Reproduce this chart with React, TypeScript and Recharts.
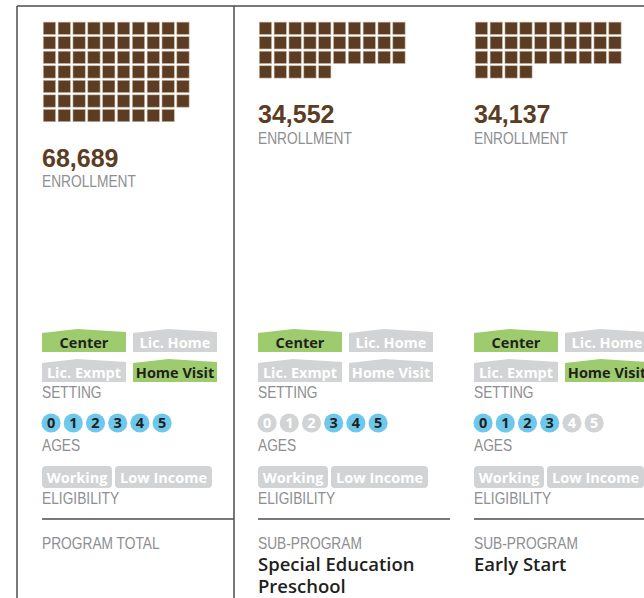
import { ScatterChart, Scatter, XAxis, YAxis } from "recharts";

// one square = 1,000 children
const ENROLLMENT = [68689, 34552, 34137];
const KICKER = ["PROGRAM TOTAL", "SUB-PROGRAM", "SUB-PROGRAM"];
const PROGRAM_NAME = [[], ["Special Education", "Preschool"], ["Early Start"]];
const SETTINGS = ["Center", "Lic. Home", "Lic. Exmpt", "Home Visit"];
const SETTING_ON = [
  [true, false, false, true],
  [true, false, false, false],
  [true, false, false, true],
];
const AGES = [0, 1, 2, 3, 4, 5];
const AGES_ON = [
  [true, true, true, true, true, true],
  [false, false, false, true, true, true],
  [true, true, true, true, false, false],
];
const ELIGIBILITY = ["Working", "Low Income"];
const ELIGIBILITY_ON = [
  [false, false],
  [false, false],
  [false, false],
];
const PER_SQUARE = 1000;
const COLS = 10;

// layout
const PANEL_X = [42, 258, 474];
const WAFFLE_TOP = 21;
const CELL_W = 14.84;
const CELL_H = 14.55;
const SQ = 12.3;
const AGE_PITCH = 22.2;
const ELIG_W = [70, 97];
const ELIG_OFF = [0, 73];

const BROWN = "#5c3d23";
const GREEN = "#9dcb6e";
const BLUE = "#6dc8ec";
const CHIP_GRAY = "#d1d3d4";
const LABEL_GRAY = "#8c8e91";
const LINE = "#4d4d4f";
const LABEL_FONT = "'Liberation Sans', Arial, sans-serif";
const CHIP_FONT = "'Open Sans', 'Noto Sans', sans-serif";

function waffleData(value: number) {
  const n = Math.round(value / PER_SQUARE);
  return Array.from({ length: n }, (_, i) => ({ col: i % COLS, row: Math.floor(i / COLS) }));
}

function Waffle({ value, left }: { value: number; left: number }) {
  const data = waffleData(value);
  const rows = Math.ceil(data.length / COLS);
  return (
    <div style={{ position: "absolute", left, top: WAFFLE_TOP }}>
      <ScatterChart width={COLS * CELL_W} height={rows * CELL_H} margin={{ top: 0, right: 0, bottom: 0, left: 0 }}>
        <XAxis type="number" dataKey="col" domain={[-0.5, COLS - 0.5]} hide />
        <YAxis type="number" dataKey="row" domain={[-0.5, rows - 0.5]} reversed hide />
        <Scatter
          data={data}
          isAnimationActive={false}
          shape={(p: any) => (
            <rect
              x={p.cx - SQ / 2}
              y={p.cy - SQ / 2}
              width={SQ}
              height={SQ}
              fill={BROWN}
              stroke="#c9b7a3"
              strokeWidth={0.6}
            />
          )}
        />
      </ScatterChart>
    </div>
  );
}

function Ages({ on, left }: { on: boolean[]; left: number }) {
  const data = AGES.map((a, i) => ({ age: a, y: 0, on: on[i] }));
  return (
    <div style={{ position: "absolute", left: left + 9 - AGE_PITCH / 2, top: 412 }}>
      <ScatterChart width={AGES.length * AGE_PITCH} height={22} margin={{ top: 0, right: 0, bottom: 0, left: 0 }}>
        <XAxis type="number" dataKey="age" domain={[-0.5, AGES.length - 0.5]} hide />
        <YAxis type="number" dataKey="y" domain={[-1, 1]} hide />
        <Scatter
          data={data}
          isAnimationActive={false}
          shape={(p: any) => (
            <g>
              <circle cx={p.cx} cy={p.cy} r={9.6} fill={p.payload.on ? BLUE : CHIP_GRAY} />
              <text
                x={p.cx}
                y={p.cy + 5.2}
                textAnchor="middle"
                fontFamily={CHIP_FONT}
                fontWeight={700}
                fontSize={14.5}
                fill={p.payload.on ? "#231f20" : "#ffffff"}
              >
                {p.payload.age}
              </text>
            </g>
          )}
        />
      </ScatterChart>
    </div>
  );
}

function SettingChip({ x, top, label, on }: { x: number; top: number; label: string; on: boolean }) {
  const w = 84;
  const h = 23;
  return (
    <g transform={`translate(${x},${top})`}>
      <polygon points={`0,4 ${w * 0.42},0 ${w},3 ${w},${h} 0,${h}`} fill={on ? GREEN : CHIP_GRAY} />
      <text
        x={w / 2}
        y={19}
        textAnchor="middle"
        fontFamily={CHIP_FONT}
        fontWeight={700}
        fontSize={14.5}
        fill={on ? "#231f20" : "#ffffff"}
      >
        {label}
      </text>
    </g>
  );
}

// condensed grey caption: regular face squeezed horizontally
function Label({ x, y, text }: { x: number; y: number; text: string }) {
  return (
    <text
      transform={`translate(${x},${y}) scale(0.86,1)`}
      fontFamily={LABEL_FONT}
      fontSize={16}
      fill={LABEL_GRAY}
    >
      {text}
    </text>
  );
}

export default function App() {
  return (
    <div
      style={{
        position: "absolute",
        left: 0,
        top: 0,
        width: 644,
        height: 598,
        overflow: "hidden",
        background: "#ffffff",
      }}
    >
      <svg width={644} height={598} style={{ position: "absolute", left: 0, top: 0 }}>
        {/* frame */}
        <line x1={17} y1={6} x2={644} y2={6} stroke={LINE} strokeWidth={1.5} />
        <line x1={17} y1={6} x2={17} y2={598} stroke={LINE} strokeWidth={1.5} />
        <line x1={234} y1={6} x2={234} y2={598} stroke={LINE} strokeWidth={1.5} />

        {PANEL_X.map((ox, p) => {
          const rows = Math.ceil(Math.round(ENROLLMENT[p] / PER_SQUARE) / COLS);
          const numBase = WAFFLE_TOP + rows * CELL_H + 44;
          return (
            <g key={p}>
              <text
                x={ox}
                y={numBase}
                fontFamily="'Liberation Sans', Arial, sans-serif"
                fontWeight={700}
                fontSize={25}
                fill={BROWN}
              >
                {ENROLLMENT[p].toLocaleString("en-US")}
              </text>
              <Label x={ox} y={numBase + 20.5} text="ENROLLMENT" />

              {SETTINGS.map((s, i) => (
                <SettingChip
                  key={s}
                  x={ox + (i % 2) * 91}
                  top={329 + Math.floor(i / 2) * 30}
                  label={s}
                  on={SETTING_ON[p][i]}
                />
              ))}
              <Label x={ox} y={398} text="SETTING" />
              <Label x={ox} y={451} text="AGES" />

              {ELIGIBILITY.map((e, i) => (
                <g key={e} transform={`translate(${ox + ELIG_OFF[i]},466)`}>
                  <rect width={ELIG_W[i]} height={22} rx={4} fill={ELIGIBILITY_ON[p][i] ? GREEN : CHIP_GRAY} />
                  <text
                    x={ELIG_W[i] / 2}
                    y={16.5}
                    textAnchor="middle"
                    fontFamily={CHIP_FONT}
                    fontWeight={700}
                    fontSize={14.5}
                    fill={ELIGIBILITY_ON[p][i] ? "#231f20" : "#ffffff"}
                  >
                    {e}
                  </text>
                </g>
              ))}
              <Label x={ox} y={504} text="ELIGIBILITY" />

              <line x1={ox} y1={519} x2={ox + 192} y2={519} stroke={LINE} strokeWidth={1.5} />
              <Label x={ox} y={549} text={KICKER[p]} />
              {PROGRAM_NAME[p].map((line, i) => (
                <text
                  key={line}
                  x={ox}
                  y={571 + i * 22}
                  fontFamily={CHIP_FONT}
                  fontWeight={600}
                  fontSize={18.5}
                  fill="#231f20"
                >
                  {line}
                </text>
              ))}
            </g>
          );
        })}
      </svg>

      {PANEL_X.map((ox, p) => (
        <Waffle key={"w" + p} value={ENROLLMENT[p]} left={ox} />
      ))}
      {PANEL_X.map((ox, p) => (
        <Ages key={"a" + p} on={AGES_ON[p]} left={ox} />
      ))}
    </div>
  );
}
